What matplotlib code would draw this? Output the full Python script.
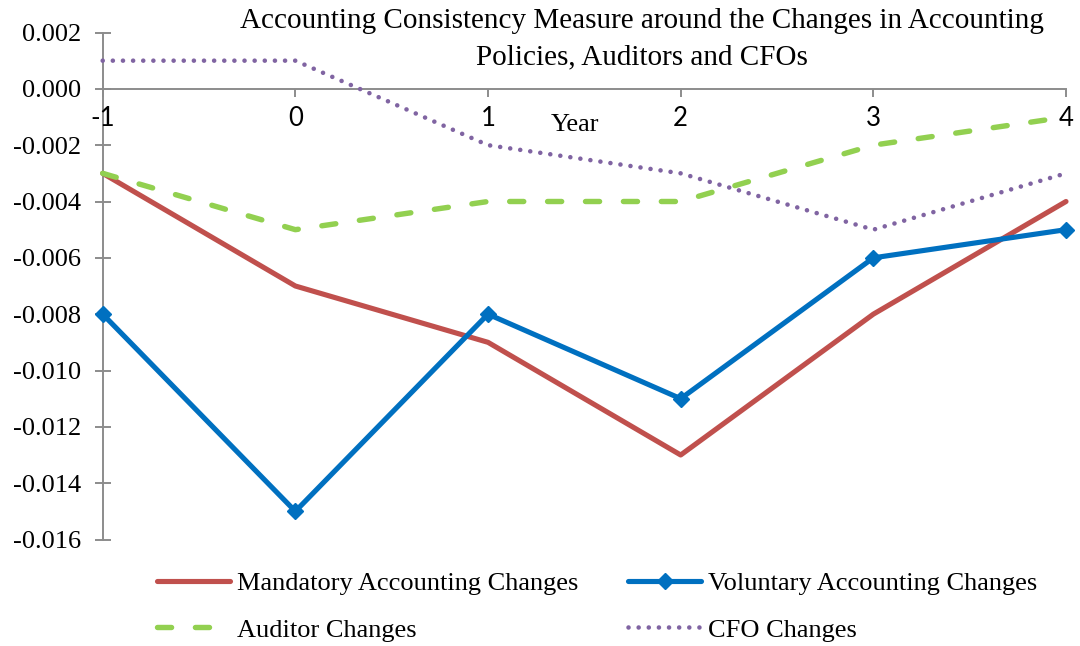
import matplotlib
matplotlib.use("Agg")
import matplotlib.pyplot as plt
from matplotlib.lines import Line2D

years = [-1, 0, 1, 2, 3, 4]
mandatory = [-0.003, -0.007, -0.009, -0.013, -0.008, -0.004]
voluntary = [-0.008, -0.015, -0.008, -0.011, -0.006, -0.005]
auditor = [-0.003, -0.005, -0.004, -0.004, -0.002, -0.001]
cfo = [0.001, 0.001, -0.002, -0.003, -0.005, -0.003]
yticks = [0.002, 0.000, -0.002, -0.004, -0.006, -0.008, -0.010, -0.012, -0.014, -0.016]
title = "Accounting Consistency Measure around the Changes in Accounting\nPolicies, Auditors and CFOs"
labels = ["Mandatory Accounting Changes", "Auditor Changes",
          "Voluntary Accounting Changes", "CFO Changes"]

plt.rcParams['axes.unicode_minus'] = False
SERIF = ['Liberation Serif', 'DejaVu Serif']
FS = 19

C_MAN = '#C0504D'
C_VOL = '#0070C0'
C_AUD = '#92D050'
C_CFO = '#8064A2'
C_AX = '#8C8C8C'

fig = plt.figure(figsize=(10.8, 6.46), dpi=100)
W, H = 1080, 646
x0, x1, ytop, ybot = 102.7, 1066.0, 32.5, 539.5
ax = fig.add_axes([x0 / W, 1 - ybot / H, (x1 - x0) / W, (ybot - ytop) / H])
ax.set_xlim(-1, 4)
ax.set_ylim(-0.016, 0.002)

lw_main = 3.7
man_style = dict(color=C_MAN, lw=lw_main, solid_joinstyle='round', solid_capstyle='round')
vol_style = dict(color=C_VOL, lw=lw_main, marker='D', markersize=8,
                 solid_joinstyle='round', solid_capstyle='round')
aud_style = dict(color=C_AUD, lw=3.9, linestyle=(0, (2.6, 4.4)),
                 dash_capstyle='round', dash_joinstyle='round')
cfo_style = dict(color=C_CFO, lw=3.3, linestyle=(0, (0.01, 2.2)),
                 dash_capstyle='round', dash_joinstyle='round')

ax.plot(years, mandatory, clip_on=False, zorder=3, **man_style)
ax.plot(years, auditor, clip_on=False, zorder=3, **aud_style)
ax.plot(years, cfo, clip_on=False, zorder=3, **cfo_style)
ax.plot(years, voluntary, clip_on=False, zorder=4, **vol_style)

# axes styling
for s in ['top', 'right']:
    ax.spines[s].set_visible(False)
ax.spines['bottom'].set_position(('data', 0))
for s in ['bottom', 'left']:
    ax.spines[s].set_color(C_AX)
    ax.spines[s].set_linewidth(1.4)
    ax.spines[s].set_zorder(1)

ax.set_yticks(yticks)
ax.set_yticklabels([f"{v:.3f}" for v in yticks], fontfamily=SERIF, fontsize=FS)
ax.tick_params(axis='y', direction='inout', length=12, width=1.4, color=C_AX, pad=9.5)
ax.set_xticks(years)
ax.set_xticklabels([str(v) for v in years], fontfamily=['Lato', 'DejaVu Sans'], fontsize=18.5)
ax.tick_params(axis='x', direction='out', length=6, width=1.4, color=C_AX, pad=6)

fig.text(575 / W, 1 - 125 / H, "Year", fontfamily=SERIF, fontsize=FS,
         ha='center', va='center')
fig.text(642 / W, 1 - 8 / H, title, fontfamily=SERIF, fontsize=21,
         ha='center', va='top', linespacing=1.5)

handles = [
    Line2D([], [], **man_style),
    Line2D([], [], **aud_style),
    Line2D([], [], **vol_style),
    Line2D([], [], **cfo_style),
]
fig.legend(handles, labels, ncol=2, loc='upper left',
           bbox_to_anchor=(157 / W, 1 - 572 / H), frameon=False, borderpad=0,
           borderaxespad=0, handlelength=2.75, handletextpad=0.28,
           columnspacing=1.9, labelspacing=0.86,
           prop={'family': SERIF, 'size': FS})

fig.savefig("out.png", dpi=100)
